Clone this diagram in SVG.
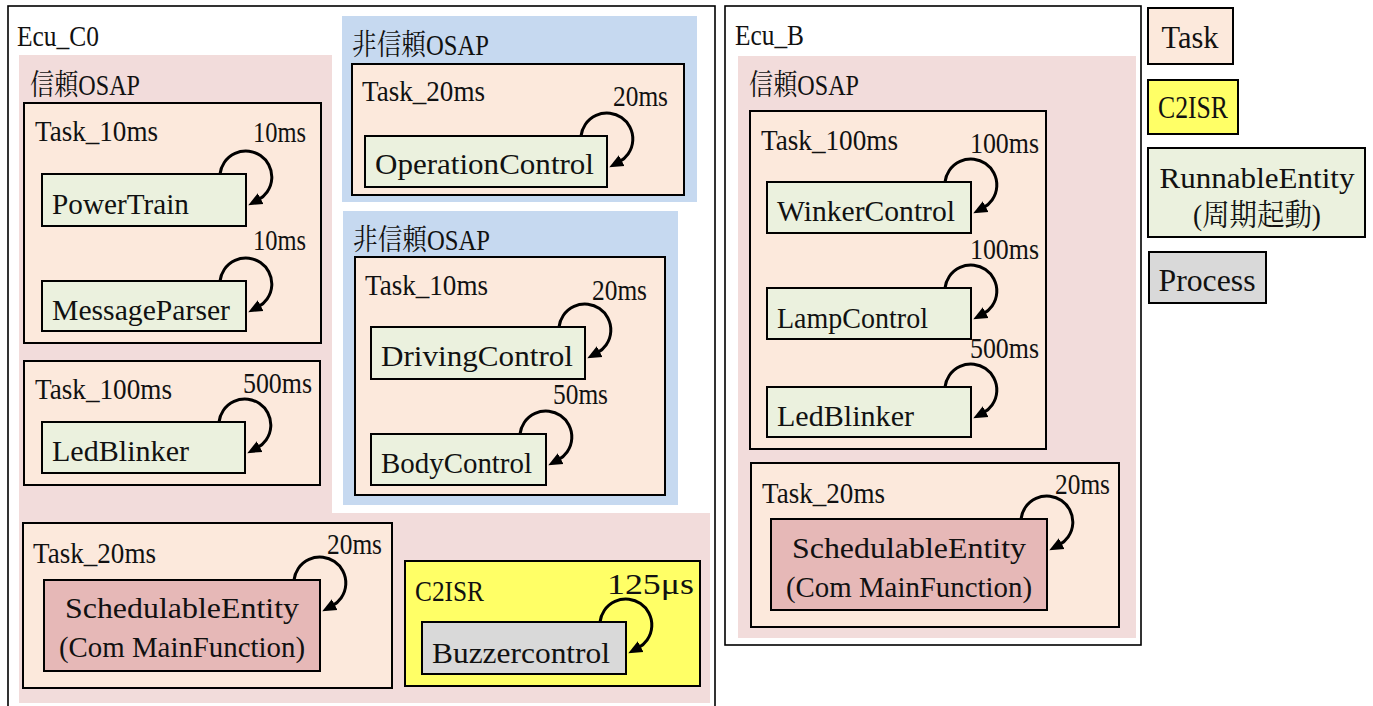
<svg xmlns="http://www.w3.org/2000/svg" xmlns:xlink="http://www.w3.org/1999/xlink" width="1373" height="706" viewBox="0 0 1373 706">
<style>
.b{stroke:#000;stroke-width:2;}
.ecu{fill:#fff;stroke:#000;stroke-width:1.6;}
.osap{fill:#F2DCDB;}
.nosap{fill:#C6D9F0;}
.task{fill:#FCE9DC;}
.re{fill:#EBF1DE;}
.se{fill:#E6B8B7;}
.isr{fill:#FFFF66;}
.proc{fill:#D9D9D9;}
.loop{fill:none;stroke:#000;stroke-width:3;marker-end:url(#ah);}
</style>
<defs>
<marker id="ah" markerUnits="userSpaceOnUse" markerWidth="14" markerHeight="14" viewBox="0 0 14 14" refX="3" refY="7" orient="auto">
<path d="M0,1 L14,7 L0,13 z" fill="#000"/>
</marker>
<path id="loop" class="loop" d="M-26,0 A26,26 0 1 1 12,26"/>
</defs>
<rect width="1373" height="706" fill="#fff"/>

<g id="ecu_c0">
<rect class="ecu" x="8" y="6" width="707" height="712"/>
<text font-family="Liberation Serif, Noto Serif CJK JP, serif" font-size="29" fill="#111" x="17" y="46" textLength="82" lengthAdjust="spacingAndGlyphs">Ecu_C0</text>
</g>
<g id="osap_c0">
<polygon class="osap" points="19,55 332,55 332,513 710,513 710,703 19,703"/>
<text font-family="Liberation Serif, Noto Serif CJK JP, serif" font-size="29" fill="#111" x="30" y="95" textLength="110" lengthAdjust="spacingAndGlyphs">信頼OSAP</text>
</g>
<g id="c0_task10">
<rect class="task b" x="24" y="103" width="297" height="240"/>
<text font-family="Liberation Serif, Noto Serif CJK JP, serif" font-size="29" fill="#111" x="35" y="141" textLength="123" lengthAdjust="spacingAndGlyphs">Task_10ms</text>
</g>
<g id="c0_powertrain">
<rect class="re b" x="42" y="174" width="204" height="52"/>
<text font-family="Liberation Serif, Noto Serif CJK JP, serif" font-size="29" fill="#111" x="52" y="214" textLength="137" lengthAdjust="spacingAndGlyphs">PowerTrain</text>
</g>
<g id="c0_messageparser">
<rect class="re b" x="42" y="281" width="204" height="50"/>
<text font-family="Liberation Serif, Noto Serif CJK JP, serif" font-size="29" fill="#111" x="52" y="320" textLength="178" lengthAdjust="spacingAndGlyphs">MessageParser</text>
</g>
<g id="c0_task100">
<rect class="task b" x="24" y="361" width="296" height="124"/>
<text font-family="Liberation Serif, Noto Serif CJK JP, serif" font-size="29" fill="#111" x="35" y="399" textLength="137" lengthAdjust="spacingAndGlyphs">Task_100ms</text>
</g>
<g id="c0_ledblinker">
<rect class="re b" x="42" y="422" width="203" height="51"/>
<text font-family="Liberation Serif, Noto Serif CJK JP, serif" font-size="29" fill="#111" x="52" y="461" textLength="137" lengthAdjust="spacingAndGlyphs">LedBlinker</text>
</g>
<g id="c0_task20">
<rect class="task b" x="23" y="523" width="369" height="165"/>
<text font-family="Liberation Serif, Noto Serif CJK JP, serif" font-size="29" fill="#111" x="33" y="563" textLength="123" lengthAdjust="spacingAndGlyphs">Task_20ms</text>
</g>
<g id="c0_se">
<rect class="se b" x="44" y="580" width="276" height="91"/>
<text font-family="Liberation Serif, Noto Serif CJK JP, serif" font-size="29" fill="#111" x="182" y="618" text-anchor="middle" textLength="234" lengthAdjust="spacingAndGlyphs">SchedulableEntity</text>
<text font-family="Liberation Serif, Noto Serif CJK JP, serif" font-size="29" fill="#111" x="182" y="657" text-anchor="middle" textLength="246" lengthAdjust="spacingAndGlyphs">(Com MainFunction)</text>
</g>
<g id="c0_c2isr">
<rect class="isr b" x="405" y="561" width="295" height="125"/>
<text font-family="Liberation Serif, Noto Serif CJK JP, serif" font-size="29" fill="#111" x="415" y="601" textLength="69" lengthAdjust="spacingAndGlyphs">C2ISR</text>
</g>
<g id="c0_buzzer">
<rect class="proc b" x="422" y="622" width="204" height="52"/>
<text font-family="Liberation Serif, Noto Serif CJK JP, serif" font-size="29" fill="#111" x="432" y="663" textLength="178" lengthAdjust="spacingAndGlyphs">Buzzercontrol</text>
</g>
<g id="nosap1">
<rect class="nosap" x="342" y="16" width="355" height="186"/>
<text font-family="Liberation Serif, Noto Serif CJK JP, serif" font-size="29" fill="#111" x="352" y="55" textLength="137" lengthAdjust="spacingAndGlyphs">非信頼OSAP</text>
</g>
<g id="nosap1_task20">
<rect class="task b" x="352" y="64" width="332" height="131"/>
<text font-family="Liberation Serif, Noto Serif CJK JP, serif" font-size="29" fill="#111" x="362" y="101" textLength="123" lengthAdjust="spacingAndGlyphs">Task_20ms</text>
</g>
<g id="opcontrol">
<rect class="re b" x="365" y="136" width="242" height="51"/>
<text font-family="Liberation Serif, Noto Serif CJK JP, serif" font-size="29" fill="#111" x="375" y="174" textLength="219" lengthAdjust="spacingAndGlyphs">OperationControl</text>
</g>
<g id="nosap2">
<rect class="nosap" x="343" y="211" width="335" height="294"/>
<text font-family="Liberation Serif, Noto Serif CJK JP, serif" font-size="29" fill="#111" x="353" y="250" textLength="137" lengthAdjust="spacingAndGlyphs">非信頼OSAP</text>
</g>
<g id="nosap2_task10">
<rect class="task b" x="355" y="257" width="310" height="238"/>
<text font-family="Liberation Serif, Noto Serif CJK JP, serif" font-size="29" fill="#111" x="365" y="295" textLength="123" lengthAdjust="spacingAndGlyphs">Task_10ms</text>
</g>
<g id="drivingcontrol">
<rect class="re b" x="371" y="327" width="214" height="52"/>
<text font-family="Liberation Serif, Noto Serif CJK JP, serif" font-size="29" fill="#111" x="381" y="366" textLength="192" lengthAdjust="spacingAndGlyphs">DrivingControl</text>
</g>
<g id="bodycontrol">
<rect class="re b" x="371" y="434" width="175" height="51"/>
<text font-family="Liberation Serif, Noto Serif CJK JP, serif" font-size="29" fill="#111" x="381" y="473" textLength="151" lengthAdjust="spacingAndGlyphs">BodyControl</text>
</g>

<g id="ecu_b">
<rect class="ecu" x="725" y="6" width="416" height="639"/>
<text font-family="Liberation Serif, Noto Serif CJK JP, serif" font-size="29" fill="#111" x="735" y="45" textLength="69" lengthAdjust="spacingAndGlyphs">Ecu_B</text>
</g>
<g id="osap_b">
<rect class="osap" x="738" y="56" width="398" height="582"/>
<text font-family="Liberation Serif, Noto Serif CJK JP, serif" font-size="29" fill="#111" x="749" y="95" textLength="110" lengthAdjust="spacingAndGlyphs">信頼OSAP</text>
</g>
<g id="b_task100">
<rect class="task b" x="750" y="111" width="296" height="338"/>
<text font-family="Liberation Serif, Noto Serif CJK JP, serif" font-size="29" fill="#111" x="761" y="150" textLength="137" lengthAdjust="spacingAndGlyphs">Task_100ms</text>
</g>
<g id="b_winker">
<rect class="re b" x="767" y="182" width="204" height="51"/>
<text font-family="Liberation Serif, Noto Serif CJK JP, serif" font-size="29" fill="#111" x="777" y="221" textLength="178" lengthAdjust="spacingAndGlyphs">WinkerControl</text>
</g>
<g id="b_lamp">
<rect class="re b" x="767" y="288" width="204" height="51"/>
<text font-family="Liberation Serif, Noto Serif CJK JP, serif" font-size="29" fill="#111" x="777" y="328" textLength="151" lengthAdjust="spacingAndGlyphs">LampControl</text>
</g>
<g id="b_ledblinker">
<rect class="re b" x="767" y="387" width="204" height="50"/>
<text font-family="Liberation Serif, Noto Serif CJK JP, serif" font-size="29" fill="#111" x="777" y="426" textLength="137" lengthAdjust="spacingAndGlyphs">LedBlinker</text>
</g>
<g id="b_task20">
<rect class="task b" x="751" y="463" width="368" height="164"/>
<text font-family="Liberation Serif, Noto Serif CJK JP, serif" font-size="29" fill="#111" x="762" y="503" textLength="123" lengthAdjust="spacingAndGlyphs">Task_20ms</text>
</g>
<g id="b_se">
<rect class="se b" x="771" y="519" width="276" height="91"/>
<text font-family="Liberation Serif, Noto Serif CJK JP, serif" font-size="29" fill="#111" x="909" y="558" text-anchor="middle" textLength="234" lengthAdjust="spacingAndGlyphs">SchedulableEntity</text>
<text font-family="Liberation Serif, Noto Serif CJK JP, serif" font-size="29" fill="#111" x="909" y="597" text-anchor="middle" textLength="246" lengthAdjust="spacingAndGlyphs">(Com MainFunction)</text>
</g>

<g id="legend_task">
<rect class="task b" x="1148" y="8" width="85" height="56"/>
<text font-family="Liberation Serif, Noto Serif CJK JP, serif" font-size="32" fill="#111" x="1190" y="48" text-anchor="middle" textLength="57" lengthAdjust="spacingAndGlyphs">Task</text>
</g>
<g id="legend_c2isr">
<rect class="isr b" x="1148" y="80" width="90" height="54"/>
<text font-family="Liberation Serif, Noto Serif CJK JP, serif" font-size="32" fill="#111" x="1193" y="118" text-anchor="middle" textLength="70" lengthAdjust="spacingAndGlyphs">C2ISR</text>
</g>
<g id="legend_re">
<rect class="re b" x="1148" y="148" width="217" height="89"/>
<text font-family="Liberation Serif, Noto Serif CJK JP, serif" font-size="30" fill="#111" x="1257" y="188" text-anchor="middle" textLength="195" lengthAdjust="spacingAndGlyphs">RunnableEntity</text>
<text font-family="Liberation Serif, Noto Serif CJK JP, serif" font-size="30" fill="#111" x="1257" y="225" text-anchor="middle" textLength="128" lengthAdjust="spacingAndGlyphs">(周期起動)</text>
</g>
<g id="legend_process">
<rect class="proc b" x="1149" y="252" width="117" height="51"/>
<text font-family="Liberation Serif, Noto Serif CJK JP, serif" font-size="32" fill="#111" x="1207" y="291" text-anchor="middle" textLength="97" lengthAdjust="spacingAndGlyphs">Process</text>
</g>

<g id="connectors">
<use xlink:href="#loop" transform="translate(246,174)"/>
<use xlink:href="#loop" transform="translate(246,281)"/>
<use xlink:href="#loop" transform="translate(245,422)"/>
<use xlink:href="#loop" transform="translate(320,580)"/>
<use xlink:href="#loop" transform="translate(626,622)"/>
<use xlink:href="#loop" transform="translate(607,136)"/>
<use xlink:href="#loop" transform="translate(585,327)"/>
<use xlink:href="#loop" transform="translate(546,434)"/>
<use xlink:href="#loop" transform="translate(971,182)"/>
<use xlink:href="#loop" transform="translate(971,288)"/>
<use xlink:href="#loop" transform="translate(971,387)"/>
<use xlink:href="#loop" transform="translate(1047,519)"/>
<text font-family="Liberation Serif, Noto Serif CJK JP, serif" font-size="29" fill="#111" x="253" y="142" textLength="53" lengthAdjust="spacingAndGlyphs">10ms</text>
<text font-family="Liberation Serif, Noto Serif CJK JP, serif" font-size="29" fill="#111" x="253" y="250" textLength="53" lengthAdjust="spacingAndGlyphs">10ms</text>
<text font-family="Liberation Serif, Noto Serif CJK JP, serif" font-size="29" fill="#111" x="243" y="393" textLength="69" lengthAdjust="spacingAndGlyphs">500ms</text>
<text font-family="Liberation Serif, Noto Serif CJK JP, serif" font-size="29" fill="#111" x="327" y="554" textLength="55" lengthAdjust="spacingAndGlyphs">20ms</text>
<text font-family="Liberation Serif, Noto Serif CJK JP, serif" font-size="29" fill="#111" x="607" y="594" textLength="87" lengthAdjust="spacingAndGlyphs">125μs</text>
<text font-family="Liberation Serif, Noto Serif CJK JP, serif" font-size="29" fill="#111" x="613" y="106" textLength="55" lengthAdjust="spacingAndGlyphs">20ms</text>
<text font-family="Liberation Serif, Noto Serif CJK JP, serif" font-size="29" fill="#111" x="592" y="300" textLength="55" lengthAdjust="spacingAndGlyphs">20ms</text>
<text font-family="Liberation Serif, Noto Serif CJK JP, serif" font-size="29" fill="#111" x="553" y="404" textLength="55" lengthAdjust="spacingAndGlyphs">50ms</text>
<text font-family="Liberation Serif, Noto Serif CJK JP, serif" font-size="29" fill="#111" x="970" y="153" textLength="69" lengthAdjust="spacingAndGlyphs">100ms</text>
<text font-family="Liberation Serif, Noto Serif CJK JP, serif" font-size="29" fill="#111" x="970" y="259" textLength="69" lengthAdjust="spacingAndGlyphs">100ms</text>
<text font-family="Liberation Serif, Noto Serif CJK JP, serif" font-size="29" fill="#111" x="970" y="358" textLength="69" lengthAdjust="spacingAndGlyphs">500ms</text>
<text font-family="Liberation Serif, Noto Serif CJK JP, serif" font-size="29" fill="#111" x="1055" y="494" textLength="55" lengthAdjust="spacingAndGlyphs">20ms</text>
</g>
</svg>
